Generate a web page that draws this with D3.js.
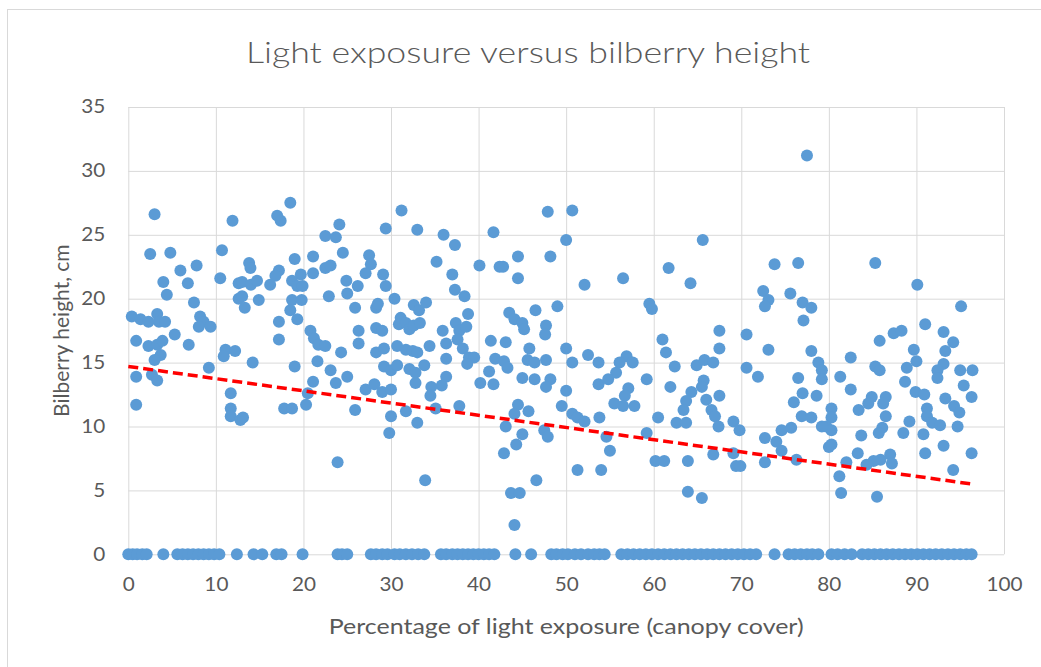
<!DOCTYPE html>
<html>
<head>
<meta charset="utf-8">
<script src="https://cdn.jsdelivr.net/npm/d3@7"></script>
<style>
  body { margin: 0; background: #fff; }
  text { font-family: Lato, "Open Sans", sans-serif; fill: #595959; }
</style>
</head>
<body>
<div id="chart"></div>
<script>
// plants that grew: [percentage of light exposure, height in cm]
var grownPlants = [
    [3.0,26.6],[11.9,26.1],[2.5,23.5],[4.8,23.6],[10.7,23.8],[7.8,22.6],[5.95,22.2],[6.8,21.2],[4.0,21.3],[4.4,20.3],
    [10.5,21.6],[12.6,21.2],[12.6,20.0],[7.5,19.7],[0.4,18.6],[1.4,18.4],[2.3,18.2],[3.3,18.8],[3.5,18.2],[4.2,18.2],
    [8.2,18.6],[8.6,18.2],[9.4,17.8],[8.05,17.8],[5.3,17.2],[0.9,16.7],[2.3,16.3],[3.3,16.4],[3.9,16.7],[3.7,15.6],
    [3.0,15.2],[6.9,16.4],[11.1,16.0],[12.2,15.9],[10.9,15.5],[9.2,14.6],[0.9,13.9],[2.7,14.05],[3.3,13.6],[0.9,11.7],
    [11.7,12.6],[11.7,11.4],[11.7,10.8],[12.8,10.5],
    [18.5,27.5],[17.0,26.5],[17.4,26.1],[24.1,25.8],[22.5,24.9],[23.7,24.8],[24.5,23.6],[19.0,23.1],[21.1,23.3],[13.8,22.8],
    [13.95,22.4],[22.5,22.4],[23.1,22.6],[17.2,22.2],[16.8,21.8],[21.1,22.0],[19.7,21.9],[13.0,21.3],[14.0,21.1],[14.7,21.4],
    [16.2,21.1],[18.7,21.4],[19.3,21.0],[19.9,21.0],[24.9,21.4],[26.2,21.0],[13.0,20.2],[13.3,19.3],[14.9,19.9],[18.7,19.9],
    [19.8,19.9],[18.5,19.1],[19.3,18.4],[22.9,20.2],[25.0,20.4],[25.9,19.3],[17.2,18.2],[17.2,16.8],[20.8,17.5],[21.2,16.9],
    [21.7,16.4],[22.5,16.3],[26.3,17.5],[26.3,16.5],[14.2,15.0],[19.0,14.7],[21.6,15.1],[24.3,15.8],[23.1,14.4],[23.7,13.4],
    [25.0,13.9],[21.1,13.5],[20.5,12.6],[20.3,11.7],[17.8,11.4],[18.7,11.4],[13.1,10.7],[25.9,11.3],[23.9,7.2],
    [31.2,26.9],[29.4,25.5],[33.0,25.4],[36.0,25.0],[37.3,24.2],[27.5,23.4],[27.7,22.7],[27.1,22.0],[35.2,22.9],[29.1,21.9],
    [29.4,21.0],[40.1,22.6],[37.0,21.9],[37.3,20.7],[38.4,20.2],[30.4,20.0],[28.3,19.3],[28.5,19.6],[32.6,19.5],[33.2,19.1],
    [34.0,19.7],[38.8,18.8],[31.1,18.5],[30.9,18.0],[31.7,18.1],[32.1,17.6],[32.6,17.9],[33.3,18.1],[28.3,17.7],[29.0,17.5],
    [35.9,17.5],[36.3,16.5],[37.4,18.1],[37.8,17.5],[37.6,16.8],[38.6,17.8],[38.2,16.1],[34.4,16.3],[28.3,15.8],[29.2,16.1],
    [30.7,16.3],[31.7,16.0],[32.5,15.9],[33.0,15.8],[36.3,15.3],[38.9,15.4],[39.5,15.4],[38.7,14.9],[29.2,14.7],[30.0,14.4],
    [30.7,14.8],[32.1,14.5],[32.8,14.2],[33.8,14.8],[32.8,13.4],[36.3,13.9],[35.8,13.2],[34.6,13.1],[34.5,12.4],[40.2,13.4],
    [27.1,12.9],[28.1,13.3],[29.0,12.7],[30.0,12.9],[31.7,11.2],[35.1,11.4],[37.8,11.6],[30.0,10.8],[33.0,10.3],[29.8,9.5],
    [33.9,5.8],
    [47.9,26.8],[50.7,26.9],[41.7,25.2],[50.0,24.6],[44.5,23.3],[48.2,23.3],[42.4,22.5],[42.8,22.5],[44.5,21.6],[52.1,21.1],
    [46.5,19.1],[49.0,19.4],[43.5,18.9],[44.1,18.4],[45.0,18.1],[45.2,17.6],[47.7,17.9],[47.6,17.2],[41.4,16.7],[43.1,16.6],
    [45.8,16.1],[50.0,16.1],[52.5,15.6],[41.9,15.3],[42.9,15.1],[43.3,14.6],[45.6,15.2],[46.4,15.0],[47.7,15.2],[50.7,15.0],
    [53.7,15.0],[41.2,14.3],[41.7,13.3],[45.0,13.8],[46.4,13.7],[48.2,13.7],[47.7,13.1],[50.0,12.8],[53.7,13.3],[44.5,11.7],
    [44.1,11.0],[45.7,11.2],[49.5,11.6],[50.7,11.0],[51.3,10.7],[52.1,10.4],[53.8,10.7],[43.1,10.0],[47.5,9.7],[47.9,9.2],
    [45.0,9.4],[44.3,8.6],[42.9,7.9],[51.3,6.6],[54.0,6.6],[46.6,5.8],[43.7,4.8],[44.7,4.8],[44.1,2.3],
    [65.6,24.6],[61.7,22.4],[56.5,21.6],[64.2,21.2],[59.5,19.6],[59.8,19.2],[61.0,16.8],[61.4,15.8],[67.5,17.5],[67.5,16.1],
    [56.9,15.5],[57.6,15.0],[56.1,15.0],[55.7,14.2],[62.4,14.7],[64.9,14.8],[65.8,15.2],[66.8,15.0],[54.8,13.7],[59.2,13.7],
    [57.1,13.0],[56.7,12.4],[61.9,13.1],[65.7,13.6],[65.5,13.1],[55.5,11.8],[56.5,11.6],[57.8,11.6],[64.3,12.7],[63.7,12.0],
    [63.4,11.3],[66.0,12.1],[66.6,11.3],[67.0,10.8],[67.5,12.4],[60.5,10.7],[62.6,10.3],[63.7,10.3],[67.4,10.0],[54.6,9.2],
    [59.2,9.5],[55.0,8.1],[66.8,7.8],[60.2,7.3],[61.2,7.3],[63.9,7.3],[63.9,4.9],[65.5,4.4],
    [77.5,31.2],[73.8,22.7],[76.5,22.8],[72.5,20.6],[73.1,19.9],[72.7,19.4],[75.6,20.4],[77.0,19.7],[78.0,19.3],[77.1,18.3],
    [70.6,17.2],[73.1,16.0],[78.0,15.9],[70.6,14.6],[71.9,13.9],[78.8,15.0],[79.2,14.4],[79.2,13.7],[76.5,13.8],[81.3,13.9],
    [77.0,12.6],[76.0,11.9],[78.6,12.4],[69.1,10.4],[69.8,9.7],[76.9,10.8],[78.0,10.7],[80.3,11.4],[80.3,10.7],[79.7,10.0],
    [80.3,9.7],[79.2,10.0],[74.6,9.7],[75.7,9.9],[72.7,9.1],[74.0,8.8],[74.6,8.1],[80.0,8.4],[80.3,8.6],[69.1,7.9],
    [69.4,6.9],[69.9,6.9],[72.7,7.2],[76.3,7.4],[81.2,6.1],[81.4,4.8],
    [85.3,22.8],[90.1,21.1],[95.1,19.4],[91.0,18.0],[87.4,17.3],[88.3,17.5],[85.8,16.7],[93.1,17.4],[94.2,16.6],[82.5,15.4],
    [89.7,16.0],[90.0,15.1],[88.9,14.6],[93.3,15.9],[93.1,14.9],[92.4,14.4],[92.4,13.8],[85.3,14.7],[85.8,14.4],[95.0,14.4],
    [96.4,14.4],[88.7,13.5],[82.5,12.9],[95.4,13.2],[96.3,12.3],[89.9,12.7],[90.9,12.5],[84.9,12.3],[86.5,12.3],[86.2,11.8],
    [83.4,11.3],[84.5,11.8],[93.3,12.2],[94.3,11.6],[94.9,11.1],[86.5,10.8],[91.2,11.4],[91.2,10.8],[91.8,10.3],[92.7,10.1],
    [89.2,10.4],[88.5,9.5],[86.1,9.9],[85.7,9.5],[90.8,9.4],[94.7,10.0],[83.7,9.3],[93.1,8.5],[91.0,7.9],[83.3,7.9],
    [82.0,7.2],[87.0,7.8],[85.9,7.4],[85.1,7.3],[87.2,7.1],[84.3,7.0],[96.3,7.9],[94.2,6.6],[85.5,4.5]
];

// plots where no bilberry grew (height 0): light exposure only
var bareExposure = [
    0, 0.5, 1.0, 1.6, 2.1, 4.0, 5.6, 6.2, 6.8, 7.4, 8.0, 8.6, 9.2, 9.8, 10.4, 12.4, 14.3, 15.3, 16.9, 17.5, 19.9,
    23.9, 24.4, 25.0, 27.7, 28.3, 29.0, 29.6, 30.4, 31.0, 31.7, 32.4, 33.1, 33.8,
    35.7, 36.3, 37.0, 37.6, 38.2, 38.8, 39.4, 40.0, 40.6, 41.2, 41.8, 44.2, 46.0, 48.3, 48.9, 49.6, 50.2,
    51.0, 51.7, 52.5, 53.2, 53.8, 54.4,
    56.3, 57.0, 57.7, 58.4, 59.1, 59.8, 60.5, 61.2, 61.9, 62.6, 63.3, 64.0, 64.7, 65.4, 66.1, 66.8, 67.5, 68.2,
    68.9, 69.6, 70.3, 71.0, 71.7, 73.8, 75.4, 76.1, 76.8, 77.5, 78.1, 78.8, 80.3, 81.0, 81.8, 82.6,
    83.8, 84.5, 85.2, 85.9, 86.6, 87.3, 88.0, 88.7, 89.4, 90.1, 90.8, 91.5, 92.2, 92.9, 93.6, 94.3, 95.0, 95.7, 96.3
];

// linear trendline as drawn in the picture (start and end)
var trendX = [0, 96.3];
var trendY = [14.7, 5.5];

var xTicks = [0, 10, 20, 30, 40, 50, 60, 70, 80, 90, 100];
var yTicks = [0, 5, 10, 15, 20, 25, 30, 35];

var allPoints = bareExposure.map(function(x) { return [x, 0]; }).concat(grownPlants);

var margin = {top: 107, right: 37, bottom: 112.7, left: 128.3},
    width = 1041 - margin.left - margin.right,
    height = 667 - margin.top - margin.bottom;

// the picture's text is a little wider than tall
var stretch = 1.19;

var svg = d3.select("#chart")
    .append("svg")
    .attr("width", 1041)
    .attr("height", 667);

// chart frame
svg.append("rect")
    .attr("x", 7.5)
    .attr("y", 9.5)
    .attr("width", 1045)
    .attr("height", 670)
    .attr("fill", "#fff")
    .attr("stroke", "#d9d9d9");

svg.append("text")
    .attr("transform", "translate(528,63) scale(" + stretch + ",1)")
    .attr("text-anchor", "middle")
    .style("font-size", "30px")
    .style("font-weight", 300)
    .text("Light exposure versus bilberry height");

var plot = svg.append("g")
    .attr("transform", "translate(" + margin.left + "," + margin.top + ")");

var x = d3.scaleLinear().domain([0, 100]).range([0, width]);
var y = d3.scaleLinear().domain([0, 35]).range([height, 0]);

// gridlines + tick labels
var xAxis = plot.append("g")
    .attr("transform", "translate(0," + height + ")")
    .call(d3.axisBottom(x).tickValues(xTicks).tickSize(-height).tickPadding(24));
var yAxis = plot.append("g")
    .call(d3.axisLeft(y).tickValues(yTicks).tickSize(-width).tickPadding(20.5));

[xAxis, yAxis].forEach(function(a) {
    a.select(".domain").remove();
    a.selectAll("line").attr("stroke", "#d9d9d9");
    a.selectAll("text")
        .attr("fill", "#595959")
        .attr("transform", "scale(1.12,1)")
        .style("font-family", "Lato, 'Open Sans', sans-serif")
        .style("font-size", "18.5px");
});

// axis titles
svg.append("text")
    .attr("transform", "translate(" + (margin.left + width / 2) + ",634) scale(" + stretch + ",1)")
    .attr("text-anchor", "middle")
    .style("font-size", "21px")
    .text("Percentage of light exposure (canopy cover)");

svg.append("text")
    .attr("transform", "translate(69," + (margin.top + height / 2) + ") rotate(-90)")
    .attr("text-anchor", "middle")
    .style("font-size", "21px")
    .text("Bilberry height, cm");

// points
plot.selectAll(".dot")
    .data(allPoints)
    .enter().append("circle")
    .attr("class", "dot")
    .attr("cx", function(d) { return x(d[0]); })
    .attr("cy", function(d) { return y(d[1]); })
    .attr("r", 6)
    .attr("fill", "#5b9bd5");

// trendline
plot.append("path")
    .datum(d3.zip(trendX, trendY))
    .attr("fill", "none")
    .attr("stroke", "#ff0000")
    .attr("stroke-width", 3.5)
    .attr("stroke-dasharray", "10,5")
    .attr("d", d3.line()
        .x(function(d) { return x(d[0]); })
        .y(function(d) { return y(d[1]); }));
</script>
</body>
</html>
